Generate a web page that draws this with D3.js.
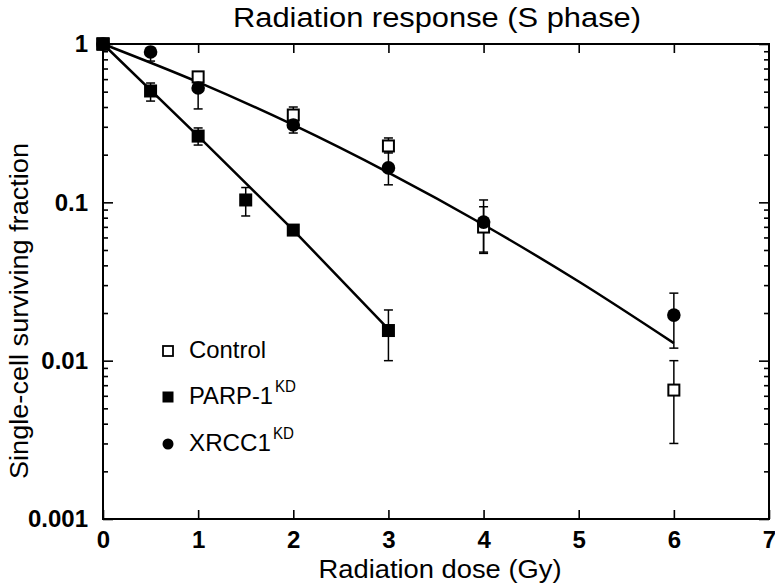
<!DOCTYPE html>
<html>
<head>
<meta charset="utf-8">
<script src="https://cdn.jsdelivr.net/npm/d3@7/dist/d3.min.js"></script>
<style>
  html, body { margin: 0; padding: 0; background: #fff; }
  svg { display: block; font-family: "Liberation Sans", Arial, Helvetica, sans-serif; }
</style>
</head>
<body>
<svg id="chart" width="775" height="587"></svg>
<script>
// ---------- data ----------
const controlDose = [0, 1, 2, 3, 4, 6];
const controlSF   = [1, 0.62, 0.356, 0.227, 0.0698, 0.00652];
const controlLo   = [1, 0.57, 0.32, 0.205, 0.0485, 0.0030];
const controlHi   = [1, 0.665, 0.40, 0.255, 0.1035, 0.0100];

const parpDose = [0, 0.5, 1, 1.5, 2, 3];
const parpSF   = [1, 0.505, 0.262, 0.1035, 0.0668, 0.0155];
const parpLo   = [1, 0.436, 0.23, 0.082, 0.063, 0.0100];
const parpHi   = [1, 0.567, 0.295, 0.124, 0.071, 0.0209];

const xrccDose = [0, 0.5, 1, 2, 3, 4, 6];
const xrccSF   = [1, 0.89, 0.527, 0.308, 0.165, 0.075, 0.0194];
const xrccLo   = [1, 0.78, 0.389, 0.274, 0.129, 0.0476, 0.0120];
const xrccHi   = [1, 0.95, 0.66, 0.345, 0.21, 0.0938, 0.0267];

// fitted curves
const fitCtrlDose = [0, 1, 2, 3, 4, 5, 6];
const fitCtrlSF   = [1, 0.574, 0.308, 0.154, 0.0722, 0.0316, 0.0129];
const fitParpDose = [0, 1, 2, 3];
const fitParpSF   = [1, 0.262, 0.0668, 0.0158];

const xTicks = [0, 1, 2, 3, 4, 5, 6, 7];
const yTicks = [1, 0.1, 0.01, 0.001];
const legendLabels = ["Control", "PARP-1", "XRCC1"];
const legendSup = ["", "KD", "KD"];

const titleText = "Radiation response (S phase)";
const xLabel = "Radiation dose (Gy)";
const yLabel = "Single-cell surviving fraction";

// ---------- layout ----------
const L = 103, R = 769, T = 44, B = 519;
const svg = d3.select("#chart");
const x = d3.scaleLinear().domain([0, 7]).range([L, R]);
const y = d3.scaleLog().domain([0.001, 1]).range([B, T]);

const minorVals = [];
[0.001, 0.01, 0.1].forEach(d => { for (let k = 2; k <= 9; k++) minorVals.push(d * k); });

// axes
svg.append("g").attr("transform", `translate(0,${B})`)
  .call(d3.axisBottom(x).tickValues(xTicks).tickFormat(d3.format("d")).tickSize(-9).tickSizeOuter(0).tickPadding(12));
svg.append("g").attr("transform", `translate(0,${T})`)
  .call(d3.axisTop(x).tickValues(xTicks.slice(1, -1)).tickFormat("").tickSize(-9).tickSizeOuter(0));
svg.append("g").attr("transform", `translate(${L},0)`)
  .call(d3.axisLeft(y).tickValues(yTicks).tickFormat(d3.format("~g")).tickSize(-10).tickSizeOuter(0).tickPadding(15));
svg.append("g").attr("transform", `translate(${L},0)`)
  .call(d3.axisLeft(y).tickValues(minorVals).tickFormat("").tickSize(-5).tickSizeOuter(0));
svg.append("g").attr("transform", `translate(${R},0)`)
  .call(d3.axisRight(y).tickValues(yTicks).tickFormat("").tickSize(-10).tickSizeOuter(0));
svg.append("g").attr("transform", `translate(${R},0)`)
  .call(d3.axisRight(y).tickValues(minorVals).tickFormat("").tickSize(-5).tickSizeOuter(0));

svg.selectAll(".domain").remove();
svg.selectAll(".tick line").attr("stroke", "#000").attr("stroke-width", 1.6);
svg.selectAll(".tick text").attr("fill", "#000").attr("font-size", 24).attr("font-weight", "bold");

svg.append("rect").attr("x", L).attr("y", T).attr("width", R - L).attr("height", B - T)
  .attr("fill", "none").attr("stroke", "#000").attr("stroke-width", 2);

// fitted lines
svg.append("path").datum(d3.zip(fitCtrlDose, fitCtrlSF))
  .attr("d", d3.line().x(d => x(d[0])).y(d => y(d[1])).curve(d3.curveMonotoneX))
  .attr("fill", "none").attr("stroke", "#000").attr("stroke-width", 2.5);
svg.append("path").datum(d3.zip(fitParpDose, fitParpSF))
  .attr("d", d3.line().x(d => x(d[0])).y(d => y(d[1])))
  .attr("fill", "none").attr("stroke", "#000").attr("stroke-width", 2.5);

// error bars
function errorBars(dose, lo, hi) {
  const g = svg.append("g").attr("stroke", "#000").attr("stroke-width", 1.5);
  dose.forEach((d, i) => {
    if (lo[i] === hi[i]) return;
    const cx = x(d);
    g.append("line").attr("x1", cx).attr("x2", cx).attr("y1", y(lo[i])).attr("y2", y(hi[i]));
    [lo[i], hi[i]].forEach(v => {
      g.append("line").attr("x1", cx - 4.5).attr("x2", cx + 4.5).attr("y1", y(v)).attr("y2", y(v));
    });
  });
}
errorBars(controlDose, controlLo, controlHi);
errorBars(parpDose, parpLo, parpHi);
errorBars(xrccDose, xrccLo, xrccHi);

// markers
const S = 13;
svg.append("g").selectAll("rect").data(d3.zip(controlDose, controlSF)).join("rect")
  .attr("x", d => x(d[0]) - S / 2 + 1).attr("y", d => y(d[1]) - S / 2 + 1)
  .attr("width", S - 2).attr("height", S - 2)
  .attr("fill", "#fff").attr("stroke", "#000").attr("stroke-width", 2);
svg.append("g").selectAll("rect").data(d3.zip(parpDose, parpSF)).join("rect")
  .attr("x", d => x(d[0]) - S / 2).attr("y", d => y(d[1]) - S / 2)
  .attr("width", S).attr("height", S).attr("fill", "#000");
svg.append("g").selectAll("circle").data(d3.zip(xrccDose, xrccSF)).join("circle")
  .attr("cx", d => x(d[0])).attr("cy", d => y(d[1])).attr("r", 6.8).attr("fill", "#000");
svg.append("rect").datum([parpDose[0], parpSF[0]])
  .attr("x", d => x(d[0]) - S / 2).attr("y", d => y(d[1]) - S / 2)
  .attr("width", S).attr("height", S).attr("fill", "#000");

// legend
const legY = [351, 397, 444];
const legLen = [77, 84, 82];
const lg = svg.append("g");
legendLabels.forEach((lab, i) => {
  const cy = legY[i], cx = 168;
  if (i === 0) lg.append("rect").attr("x", cx - 5).attr("y", cy - 5).attr("width", 10).attr("height", 10)
    .attr("fill", "#fff").attr("stroke", "#000").attr("stroke-width", 1.8);
  if (i === 1) lg.append("rect").attr("x", cx - 5.5).attr("y", cy - 5.5).attr("width", 11).attr("height", 11).attr("fill", "#000");
  if (i === 2) lg.append("circle").attr("cx", cx).attr("cy", cy).attr("r", 5.5).attr("fill", "#000");
  lg.append("text").attr("x", 189).attr("y", cy + 7).attr("font-size", 24).attr("fill", "#000")
    .attr("textLength", legLen[i]).attr("lengthAdjust", "spacingAndGlyphs").text(lab);
  if (legendSup[i]) {
    lg.append("text").attr("x", 189 + legLen[i] + 2).attr("y", cy - 5).attr("font-size", 16)
      .attr("textLength", 21).attr("lengthAdjust", "spacingAndGlyphs").attr("fill", "#000").text(legendSup[i]);
  }
});

// titles
svg.append("text").attr("x", 437).attr("y", 27).attr("text-anchor", "middle")
  .attr("font-size", 27).attr("fill", "#000")
  .attr("textLength", 408).attr("lengthAdjust", "spacingAndGlyphs").text(titleText);
svg.append("text").attr("x", 440).attr("y", 578).attr("text-anchor", "middle")
  .attr("font-size", 25).attr("fill", "#000")
  .attr("textLength", 243).attr("lengthAdjust", "spacingAndGlyphs").text(xLabel);
svg.append("text").attr("transform", "translate(28,311) rotate(-90)").attr("text-anchor", "middle")
  .attr("font-size", 25).attr("fill", "#000")
  .attr("textLength", 336).attr("lengthAdjust", "spacingAndGlyphs").text(yLabel);
</script>
</body>
</html>
